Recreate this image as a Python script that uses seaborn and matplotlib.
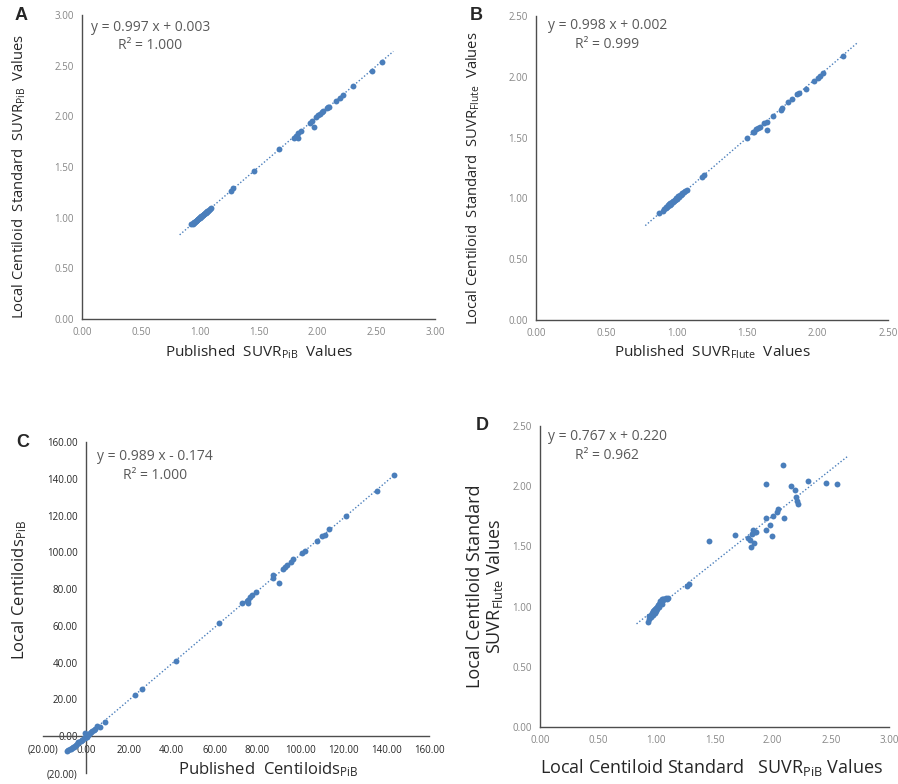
import numpy as np
import matplotlib
matplotlib.use("Agg")
import matplotlib.pyplot as plt
import seaborn as sns

# ==========================
# Data
# ==========================

# A: published vs local SUVR (PiB)
a_published = [0.93, 0.94, 0.945, 0.95, 0.955, 0.96, 0.965, 0.97, 0.975, 0.98, 0.985,
               0.99, 0.995, 1.00, 1.005, 1.01, 1.015, 1.02, 1.025, 1.03, 1.035, 1.04,
               1.045, 1.05, 1.055, 1.06, 1.065, 1.07, 1.08, 1.09, 1.10,
               1.263, 1.286, 1.461, 1.677, 1.80, 1.818, 1.833, 1.838, 1.858, 1.94,
               1.951, 1.974, 1.985, 2.008, 2.02, 2.036, 2.05, 2.08, 2.09, 2.10, 2.16,
               2.19, 2.215, 2.30, 2.461, 2.546]
a_local = [0.935, 0.94, 0.945, 0.952, 0.955, 0.962, 0.963, 0.972, 0.975, 0.98, 0.987,
           0.99, 0.997, 1.00, 1.006, 1.01, 1.017, 1.02, 1.026, 1.03, 1.037, 1.04,
           1.046, 1.05, 1.057, 1.06, 1.066, 1.07, 1.078, 1.09, 1.10,
           1.267, 1.29, 1.461, 1.675, 1.787, 1.81, 1.784, 1.834, 1.856, 1.93,
           1.955, 1.898, 1.99, 2.015, 2.025, 2.04, 2.05, 2.08, 2.09, 2.096, 2.15,
           2.185, 2.211, 2.297, 2.448, 2.540]

# B: published vs local SUVR (Flute)
b_published = [0.876, 0.90, 0.91, 0.92, 0.925, 0.93, 0.935, 0.94, 0.945, 0.95, 0.955,
               0.96, 0.965, 0.97, 0.975, 0.98, 0.985, 0.99, 0.995, 1.00, 1.005, 1.01,
               1.015, 1.02, 1.03, 1.035, 1.04, 1.05, 1.06, 1.07,
               1.177, 1.194, 1.496, 1.54, 1.55, 1.563, 1.58, 1.591, 1.62, 1.638, 1.643,
               1.686, 1.738, 1.745, 1.792, 1.816, 1.855, 1.87, 1.918, 1.975, 2.00,
               2.017, 2.036, 2.183]
b_local = [0.882, 0.895, 0.91, 0.92, 0.93, 0.928, 0.94, 0.942, 0.95, 0.948, 0.96,
           0.958, 0.968, 0.97, 0.978, 0.98, 0.99, 0.985, 1.00, 0.998, 1.01, 1.02,
           1.01, 1.025, 1.03, 1.04, 1.045, 1.055, 1.062, 1.069,
           1.178, 1.19, 1.50, 1.545, 1.55, 1.568, 1.575, 1.59, 1.617, 1.63, 1.5625,
           1.678, 1.727, 1.746, 1.79, 1.815, 1.856, 1.864, 1.90, 1.966, 1.99,
           2.01, 2.029, 2.174]

# C: published vs local Centiloids (PiB)
c_published = [-9.0, -8.2, -7.5, -7.0, -6.5, -6.0, -5.5, -5.0, -4.6, -4.0, -3.6, -3.0,
               -2.5, -2.0, -1.6, -1.0, -0.5, -0.4, 0.0, 0.4, 1.0, 1.5, 2.0, 2.6, 3.0,
               3.6, 4.2, 5.3, 6.6, 8.9,
               22.9, 26.0, 41.9, 62.2, 72.9, 75.1, 75.8, 75.8, 76.6, 77.3, 79.3, 87.1,
               87.1, 90.2, 91.7, 92.8, 93.9, 95.7, 96.7, 100.6, 102.2, 107.6, 110.0,
               111.5, 113.5, 121.2, 135.6, 143.8]
c_local = [-8.0, -7.5, -7.2, -6.8, -6.2, -5.9, -5.6, -5.2, -4.5, -4.1, -3.4, -3.2,
           -2.4, -1.9, -1.8, -0.8, -0.7, 1.6, 0.3, -0.2, 0.8, 1.2, 1.9, 2.4, 3.1,
           3.5, 4.0, 5.7, 5.2, 7.9,
           22.4, 25.7, 41.1, 61.7, 72.3, 73.3, 74.2, 72.6, 75.6, 76.8, 78.4, 85.9,
           87.7, 83.1, 91.0, 92.2, 93.1, 95.0, 96.2, 99.5, 100.9, 106.3, 109.0,
           109.4, 112.5, 119.9, 133.5, 142.0]

# D: local SUVR PiB vs local SUVR Flute
d_pib = [0.93, 0.935, 0.94, 0.95, 0.955, 0.96, 0.965, 0.97, 0.975, 0.98, 0.985, 0.99,
         0.995, 1.00, 1.005, 1.01, 1.015, 1.02, 1.025, 1.03, 1.035, 1.04, 1.045, 1.05,
         1.055, 1.06, 1.07, 1.08, 1.09, 1.10,
         1.26, 1.285, 1.457, 1.675, 1.79, 1.807, 1.81, 1.82, 1.835, 1.84, 1.85, 1.86,
         1.94, 1.94, 1.945, 1.98, 1.99, 2.00, 2.035, 2.05, 2.085, 2.10, 2.16, 2.19,
         2.20, 2.21, 2.22, 2.30, 2.46, 2.55]
d_flute = [0.875, 0.90, 0.92, 0.93, 0.91, 0.94, 0.95, 0.93, 0.96, 0.97, 0.95, 0.98,
           0.96, 0.99, 1.00, 0.98, 1.01, 1.02, 1.00, 1.03, 1.05, 1.04, 1.06, 1.02,
           1.06, 1.055, 1.065, 1.07, 1.065, 1.07,
           1.17, 1.19, 1.545, 1.595, 1.57, 1.55, 1.495, 1.605, 1.64, 1.53, 1.62, 1.62,
           2.02, 1.64, 1.74, 1.68, 1.59, 1.75, 1.79, 1.81, 2.18, 1.74, 2.00, 1.97,
           1.91, 1.88, 1.855, 2.04, 2.03, 2.02]

# trendline coefficients printed on each panel
slopes = [0.997, 0.998, 0.989, 0.767]
intercepts = [0.003, 0.002, -0.174, 0.220]
r_squared = ["1.000", "0.999", "1.000", "0.962"]
forecast = [0.1, 0.1, 0.0, 0.1]

# ==========================
# Style
# ==========================
sns.set_style("white")
plt.rcParams["font.family"] = ["Open Sans", "DejaVu Sans"]
plt.rcParams["mathtext.default"] = "regular"

DOT = "#4a7ebb"
AXIS = "#4d4d4d"
TICKTXT = "#858585"
EQTXT = "#595959"


def fmt(v):
    return f"({abs(v):.2f})" if v < 0 else f"{v:.2f}"


def draw_panel(ax, x, y, k, xticks, yticks, eq_pos):
    sns.scatterplot(x=x, y=y, ax=ax, color=DOT, s=18, linewidth=0, zorder=3)
    x0 = min(x) - forecast[k]
    x1 = max(x) + forecast[k]
    xs = np.array([x0, x1])
    ax.plot(xs, slopes[k] * xs + intercepts[k], color=DOT, lw=1.0,
            ls=(0, (1, 1.5)), zorder=2)

    ax.set_xlim(xticks[0], xticks[-1])
    ax.set_ylim(yticks[0], yticks[-1])
    ax.set_xticks(xticks)
    ax.set_yticks(yticks)
    ax.set_xticklabels([fmt(v) for v in xticks])
    ax.set_yticklabels([fmt(v) for v in yticks])
    for lab, v in zip(ax.get_xticklabels(), xticks):
        lab.set_color("#ff5050" if v < 0 else TICKTXT)
    for lab, v in zip(ax.get_yticklabels(), yticks):
        lab.set_color("#ff5050" if v < 0 else TICKTXT)
    ax.tick_params(axis="both", labelsize=7, length=4, width=0.9,
                   color=AXIS, direction="inout", pad=4)
    sns.despine(ax=ax)
    for side in ["left", "bottom"]:
        ax.spines[side].set_color(AXIS)
        ax.spines[side].set_linewidth(1.0)

    sign = "+" if intercepts[k] >= 0 else "-"
    eq = f"y = {slopes[k]:.3f} x {sign} {abs(intercepts[k]):.3f}\nR² = {r_squared[k]}"
    ax.text(eq_pos[0], eq_pos[1], eq, transform=ax.transAxes, ha="center",
            va="center", multialignment="center", fontsize=10, color=EQTXT,
            linespacing=1.35)


fig = plt.figure(figsize=(8.98, 7.84), dpi=100)
ax_a = fig.add_axes([0.0913, 0.5931, 0.3931, 0.3878])
ax_b = fig.add_axes([0.5969, 0.5918, 0.3920, 0.3878])
ax_c = fig.add_axes([0.0479, 0.0140, 0.4298, 0.4222])
ax_d = fig.add_axes([0.6013, 0.0727, 0.3887, 0.3839])

suvr3 = [0.0, 0.5, 1.0, 1.5, 2.0, 2.5, 3.0]
suvr25 = [0.0, 0.5, 1.0, 1.5, 2.0, 2.5]
cl_ticks = [-20, 0, 20, 40, 60, 80, 100, 120, 140, 160]

draw_panel(ax_a, a_published, a_local, 0, suvr3, suvr3, (0.194, 0.929))
draw_panel(ax_b, b_published, b_local, 1, suvr25, suvr25, (0.203, 0.937))
draw_panel(ax_c, c_published, c_local, 2, cl_ticks, cl_ticks, (0.29, 0.927))
draw_panel(ax_d, d_pib, d_flute, 3, suvr3, suvr25, (0.193, 0.934))

# axes of panel C cross at zero
ax_c.spines["left"].set_position(("data", 0))
ax_c.spines["bottom"].set_position(("data", 0))

# axis titles
LAB = "#262626"
ax_a.set_ylabel("Local Centiloid  Standard  SUVR$_{PiB}$  Values", fontsize=10.6, color=LAB)
ax_a.set_xlabel("Published  SUVR$_{PiB}$  Values", fontsize=11, color=LAB)
ax_b.set_ylabel("Local Centiloid  Standard  SUVR$_{Flute}$  Values", fontsize=10.6, color=LAB)
ax_b.set_xlabel("Published  SUVR$_{Flute}$  Values", fontsize=11, color=LAB)
ax_c.set_ylabel("Local Centiloids$_{PiB}$", fontsize=12, color=LAB)
ax_c.set_xlabel("Published  Centiloids$_{PiB}$", fontsize=12, color=LAB)
ax_d.set_ylabel("Local Centiloid Standard\nSUVR$_{Flute}$ Values", fontsize=13,
                color=LAB, linespacing=1.0)
ax_d.set_xlabel("Local Centiloid Standard   SUVR$_{PiB}$ Values", fontsize=13, color=LAB)

for ax in [ax_a, ax_b, ax_c, ax_d]:
    ax.yaxis.label.set_va("center")
    ax.xaxis.label.set_va("center")

ax_a.yaxis.set_label_coords(-0.178, 0.47)
ax_a.xaxis.set_label_coords(0.503, -0.108)
ax_b.yaxis.set_label_coords(-0.179, 0.467)
ax_b.xaxis.set_label_coords(0.501, -0.105)
ax_c.yaxis.set_label_coords(-0.06, 0.553)
ax_c.xaxis.set_label_coords(0.583, 0.01)
ax_d.yaxis.set_label_coords(-0.155, 0.468)
ax_d.xaxis.set_label_coords(0.493, -0.136)

# panel letters
for letter, (px, py) in zip("ABCD", [(21, 16), (476, 15), (23, 442), (482, 425)]):
    fig.text(px / 898, 1 - py / 784, letter, fontsize=13, fontweight="bold",
             ha="center", va="center", family="Liberation Sans")

fig.savefig("out.png", dpi=100, facecolor="white")
